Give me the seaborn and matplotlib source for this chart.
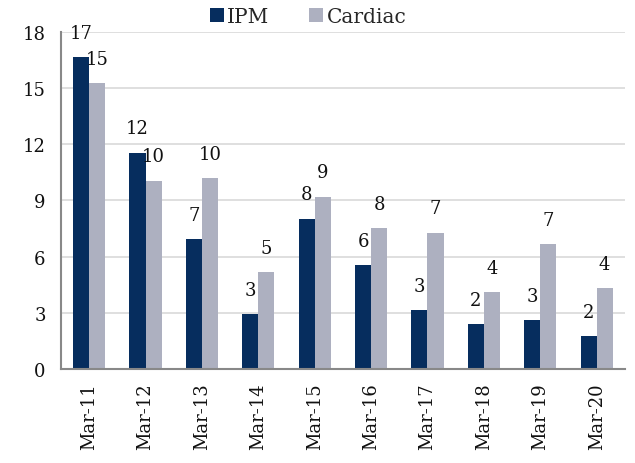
import numpy as np
import pandas as pd
import matplotlib
matplotlib.use("Agg")
import matplotlib.pyplot as plt
import seaborn as sns

# data
months = ["Mar-11", "Mar-12", "Mar-13", "Mar-14", "Mar-15",
          "Mar-16", "Mar-17", "Mar-18", "Mar-19", "Mar-20"]
ipm = [16.67, 11.55, 6.94, 2.94, 8.03, 5.55, 3.13, 2.40, 2.60, 1.75]
cardiac = [15.28, 10.06, 10.18, 5.16, 9.20, 7.50, 7.28, 4.10, 6.66, 4.31]
series = ["IPM", "Cardiac"]
colors = ["#062d5e", "#adb0c0"]
y_ticks = [0, 3, 6, 9, 12, 15, 18]

df = pd.DataFrame({
    "month": months * 2,
    "value": ipm + cardiac,
    "series": ["IPM"] * len(months) + ["Cardiac"] * len(months),
})

sns.set_theme(style="white")
plt.rcParams["font.family"] = ["DejaVu Serif"]

fig = plt.figure(figsize=(6.35, 4.64), dpi=100)
ax = fig.add_axes([0.096, 0.203, 0.888, 0.726])

sns.barplot(data=df, x="month", y="value", hue="series", hue_order=series,
            palette=colors, width=0.57, gap=0, saturation=1, ax=ax,
            edgecolor="none", legend=True)

for cont, vals in zip(ax.containers, [ipm, cardiac]):
    ax.bar_label(cont, labels=[f"{v:.0f}" for v in vals], padding=11,
                 fontsize=13, color="#111111")

ax.set_ylim(0, 18)
ax.set_yticks(y_ticks)
ax.set_yticklabels([str(t) for t in y_ticks], fontsize=13, color="#111111")
ax.set_xlim(-0.5, len(months) - 0.5)
ax.tick_params(axis="x", labelrotation=90, labelsize=13, length=0, pad=10,
               colors="#111111")
ax.tick_params(axis="y", length=4, width=1, color="#888888", direction="out",
               pad=7)
ax.set_xlabel("")
ax.set_ylabel("")

ax.yaxis.grid(True, color="#d9d9d9", linewidth=1.2)
ax.set_axisbelow(True)
for s in ["top", "right"]:
    ax.spines[s].set_visible(False)
for s in ["left", "bottom"]:
    ax.spines[s].set_color("#888888")
    ax.spines[s].set_linewidth(1.5)

# legend across the top, outside the axes
ax.legend_.remove()
handles, labels = ax.get_legend_handles_labels()
fig.legend(handles, labels, loc="center", bbox_to_anchor=(0.485, 0.963),
           ncol=2, frameon=False, fontsize=14.5, handlelength=0.7,
           handleheight=0.7, handletextpad=0.15, columnspacing=2.0)

fig.savefig("out.png", dpi=100)
